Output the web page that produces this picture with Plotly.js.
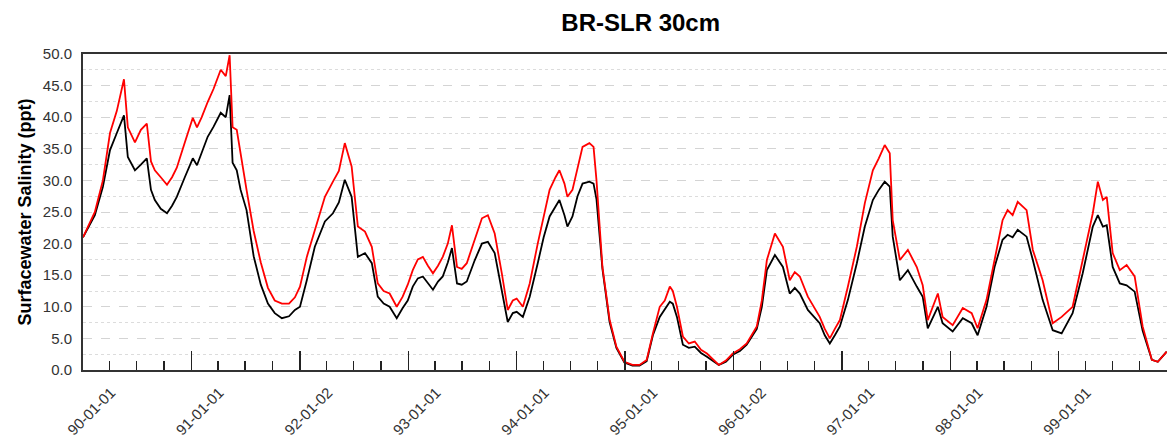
<!DOCTYPE html>
<html><head><meta charset="utf-8">
<script src="https://cdn.plot.ly/plotly-3.0.1.min.js"></script>
<style>html,body{margin:0;padding:0;background:#fff}</style>
</head><body><div id="chart" style="width:1167px;height:443px"></div>
<script>
const dates = [
"1990-01-01","1990-02-10","1990-03-09","1990-04-02","1990-04-25","1990-05-19","1990-06-01","1990-06-25","1990-07-15","1990-08-04",
"1990-08-18","1990-08-31","1990-09-20","1990-10-11","1990-10-28","1990-11-13","1990-12-10","1991-01-06","1991-01-20","1991-02-05",
"1991-02-25","1991-03-17","1991-04-10","1991-04-27","1991-05-10","1991-05-20","1991-06-03","1991-06-16","1991-07-06","1991-07-30",
"1991-08-23","1991-09-16","1991-10-09","1991-11-02","1991-11-26","1991-12-16","1992-01-02","1992-01-25","1992-02-21","1992-03-26",
"1992-04-22","1992-05-12","1992-06-01","1992-06-24","1992-07-15","1992-08-08","1992-08-31","1992-09-20","1992-10-10","1992-10-30",
"1992-11-23","1992-12-13","1992-12-30","1993-01-16","1993-02-02","1993-02-19","1993-03-08","1993-03-25","1993-04-11","1993-04-27",
"1993-05-14","1993-05-28","1993-06-14","1993-06-30","1993-07-17","1993-08-13","1993-09-06","1993-09-26","1993-10-19","1993-11-12",
"1993-12-02","1993-12-19","1994-01-01","1994-01-22","1994-02-14","1994-03-13","1994-04-02","1994-04-22","1994-05-12","1994-05-25",
"1994-06-11","1994-06-21","1994-07-08","1994-07-25","1994-08-11","1994-09-03","1994-09-17","1994-09-27","1994-10-17","1994-11-10",
"1994-12-03","1994-12-30","1995-01-26","1995-02-19","1995-03-15","1995-04-05","1995-04-28","1995-05-15","1995-06-01","1995-06-11",
"1995-06-25","1995-07-15","1995-08-04","1995-08-24","1995-09-14","1995-10-04","1995-10-24","1995-11-13","1995-12-07","1995-12-30",
"1996-01-23","1996-02-15","1996-03-20","1996-04-06","1996-04-23","1996-05-20","1996-06-16","1996-07-09","1996-07-26","1996-08-12",
"1996-09-08","1996-09-28","1996-10-18","1996-11-04","1996-11-21","1996-12-08","1996-12-25","1997-01-21","1997-02-20","1997-03-19",
"1997-04-15","1997-05-05","1997-05-25","1997-06-11","1997-06-21","1997-07-15","1997-08-11","1997-09-10","1997-09-30","1997-10-17",
"1997-11-20","1997-12-06","1998-01-09","1998-02-12","1998-03-14","1998-04-03","1998-05-03","1998-05-30","1998-06-26","1998-07-13",
"1998-07-30","1998-08-16","1998-09-15","1998-10-06","1998-11-08","1998-12-12","1999-01-11","1999-02-17","1999-03-23","1999-04-26",
"1999-05-13","1999-05-30","1999-06-12","1999-07-02","1999-07-26","1999-08-18","1999-09-14","1999-10-11","1999-11-11","1999-12-01",
"1999-12-31"];
const redSeries = [
21,25,30,37.5,41,46,38.4,36,38,39,
33,31.6,30.5,29.3,30.5,32,36,39.9,38.4,40,
42.4,44.5,47.5,46.5,49.8,38.4,38,34,28.5,22,
17,13,11,10.5,10.5,11.5,13.2,17.9,22.2,27.4,
29.8,31.5,35.9,32.2,22.7,21.9,19.5,13.7,12.5,12.1,
10,11.6,13.5,15.8,17.5,17.9,16.5,15.3,16.5,17.9,
20,22.9,16.3,16,16.9,20.6,24,24.5,21.6,15.3,
9.5,11,11.3,10,13.7,20,24.5,28.5,30.5,31.6,
29.5,27.4,28.5,32,35.3,35.9,35.3,30,16.3,8,
3.7,1.3,0.8,0.8,1.6,5.8,10,11,13.2,12.5,
10,5.3,4.2,4.5,3.2,2.6,1.7,0.8,1.5,2.6,
3.3,4.2,6.9,11,17.4,21.6,19.5,14.2,15.5,14.8,
11.6,10,8.4,6.5,5,6.5,7.9,13.2,19.5,26.4,
31.6,33.5,35.6,34.3,23.7,17.4,19,16.3,13.4,7.9,
12.1,8.4,7.1,9.8,9.0,6.6,11.1,17.4,23.7,25.3,
24.5,26.6,25.3,19,14.2,7.4,8.4,10,17.4,24.8,
29.8,26.9,27.4,18.5,15.8,16.6,14.8,6.9,1.6,1.3,
2.9];
const blackSeries = [
21,24.5,29,34.8,37.5,40.3,33.7,31.6,32.5,33.5,
28.5,26.9,25.5,24.8,26,27.4,30.5,33.5,32.4,34.5,
36.9,38.5,40.7,40,43.5,32.8,31.6,28.5,25.3,18,
13.5,10.5,9,8.2,8.5,9.5,10,14.2,19.5,23.5,
24.8,26.5,30.1,27.4,17.9,18.5,16.9,11.6,10.5,10,
8.2,9.8,11,13.2,14.5,14.8,13.8,12.7,14,14.8,
17,19.3,13.7,13.5,14,17.4,20,20.3,18.5,12.7,
7.6,9,9.2,8.4,11.6,16.9,21,24.3,26,26.9,
24.5,22.7,24.3,27.5,29.5,29.8,29.5,27,16,7.6,
3.5,1.2,0.7,0.7,1.4,5.5,8.4,9.5,10.8,10.5,
8.4,4,3.5,3.7,2.7,2.1,1.5,0.8,1.3,2.4,
3.0,4.0,6.5,10,15.8,18.2,16.3,12.1,13,12.1,
9.5,8.5,7.4,5.5,4.2,5.5,6.9,11.1,16.9,22.7,
26.9,28.5,29.8,29,21.1,14.2,15.8,13.2,11.6,6.6,
10,7.4,6.1,8.2,7.4,5.5,10,16.3,20.6,21.4,
21,22.2,21.1,17.4,11.1,6.3,5.8,9,15.3,22.7,
24.5,22.7,22.9,16.3,13.7,13.4,12.4,6.2,1.6,1.3,
2.9];
const tickDates = ["1990-01-01","1991-01-01","1992-01-02","1993-01-01","1994-01-01","1995-01-01","1996-01-02","1997-01-01","1998-01-01","1999-01-01"];
const tickLabels = ["90-01-01","91-01-01","92-01-02","93-01-01","94-01-01","95-01-01","96-01-02","97-01-01","98-01-01","99-01-01"];
const chartTitle = "BR-SLR 30cm";
const yTitle = "Surfacewater Salinity (ppt)";

const font = "Liberation Sans, Arial, Helvetica, sans-serif";
const traces = [
  {x: dates, y: blackSeries, type: "scatter", mode: "lines", line: {color: "#000000", width: 1.8}, showlegend: false, hoverinfo: "x+y"},
  {x: dates, y: redSeries, type: "scatter", mode: "lines", line: {color: "#ff0000", width: 1.8}, showlegend: false, hoverinfo: "x+y"}
];
const layout = {
  width: 1167, height: 443,
  margin: {l: 83, r: 0, t: 54, b: 73},
  paper_bgcolor: "#ffffff", plot_bgcolor: "#ffffff",
  font: {family: font, color: "#333333", size: 15},
  title: {text: "<b>" + chartTitle + "</b>", font: {family: font, size: 24, color: "#000000"}, x: 0.549, xanchor: "center", y: 0.95, yanchor: "middle"},
  xaxis: {
    type: "date", range: ["1990-01-01", "2000-01-01"],
    tickvals: tickDates, ticktext: tickLabels, tickangle: -45,
    ticks: "inside", ticklen: 19, tickwidth: 1.5, tickcolor: "#222222",
    ticklabelshift: 28, ticklabelstandoff: 6,
    showline: true, linecolor: "#333333", linewidth: 2, mirror: true,
    showgrid: false, zeroline: false,
    tickfont: {family: font, size: 15, color: "#333333"},
    minor: {tick0: "1990-01-01", dtick: "M3", ticks: "inside", ticklen: 9, tickwidth: 1.5, tickcolor: "#222222", showgrid: false}
  },
  yaxis: {
    range: [0, 50], tick0: 0, dtick: 5, tickformat: ".1f",
    ticks: "", showline: true, linecolor: "#333333", linewidth: 2,
    ticklabelstandoff: 6,
    showgrid: true, gridcolor: "#d4d4d4", gridwidth: 1, griddash: "dash",
    zeroline: false,
    tickfont: {family: font, size: 15, color: "#333333"},
    title: {text: "<b>" + yTitle + "</b>", font: {family: font, size: 18, color: "#000000"}, standoff: 6},
    minor: {dtick: 2.5, showgrid: true, gridcolor: "#dcdcdc", gridwidth: 1, griddash: "dot"}
  }
};
Plotly.newPlot("chart", traces, layout, {displayModeBar: false, staticPlot: true});
</script>
</body></html>
